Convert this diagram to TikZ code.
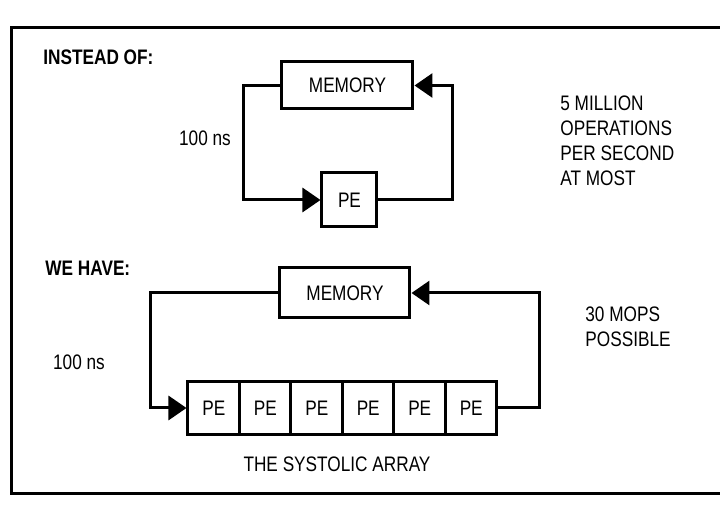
\documentclass[tikz,border=0pt]{standalone}
\usepackage{fontspec}
\setmainfont{Liberation Sans}[FakeStretch=0.82]
\usepackage{tikz}
\usetikzlibrary{
  arrows.meta,
  positioning,
  calc
}

\begin{document}
\begin{tikzpicture}[x=0.5pt, y=-0.5pt, >={Triangle[length=9pt,width=12pt]},
  box/.style={draw,line width=1.5pt,inner sep=0pt,font=\fontsize{10.5}{12.5}\selectfont},
  flow/.style={->,line width=1.5pt},
  txt/.style={font=\fontsize{10.5}{12.5}\selectfont,inner sep=0pt,align=left}]
\useasboundingbox (0,0) rectangle (720,512);
% frame of the figure
\draw[line width=1.5pt] (735,28) -- (12,28) -- (12,494) -- (735,494);

% instead of: one PE against the memory
\node[txt,font=\bfseries\fontsize{10.5}{12.5}\selectfont,anchor=west] (head1) at (43,57) {INSTEAD OF:};
\node[box,minimum width=65.5pt,minimum height=23.5pt] (mem1) at (347.5,85.5) {MEMORY};
\node[box,minimum width=27.5pt,minimum height=27pt] (pe1) at (349.5,200) {PE};
\node[txt] (time1) at (205,138) {100 ns};
\node[txt,anchor=west] (rate1) at (560,140.5) {5 MILLION\\OPERATIONS\\PER SECOND\\AT MOST};

\draw[flow] (mem1.west) -| ($(pe1.west)+(-77,0)$) -- (pe1.west);
\draw[flow] (pe1.east) -| ($(mem1.east)+(38,0)$) -- (mem1.east);

% we have: the systolic array
\node[txt,font=\bfseries\fontsize{10.5}{12.5}\selectfont,anchor=west] (head2) at (45,268) {WE HAVE:};
\node[box,minimum width=65pt,minimum height=25pt] (mem2) at (345,293) {MEMORY};
\foreach \i in {1,...,6}
  \node[box,minimum width=25.75pt,minimum height=26.5pt] (p\i) at ({188+51.5*(\i-0.5)},408) {PE};
\node[txt] (time2) at (79,362) {100 ns};
\node[txt,anchor=west] (rate2) at (585,326.5) {30 MOPS\\POSSIBLE};
\node[txt] (array) at (337,464) {THE SYSTOLIC ARRAY};

\draw[flow] (mem2.west) -| ($(p1.west)+(-36,0)$) -- (p1.west);
\draw[flow] (p6.east) -| ($(mem2.east)+(128,0)$) -- (mem2.east);
\end{tikzpicture}
\end{document}
